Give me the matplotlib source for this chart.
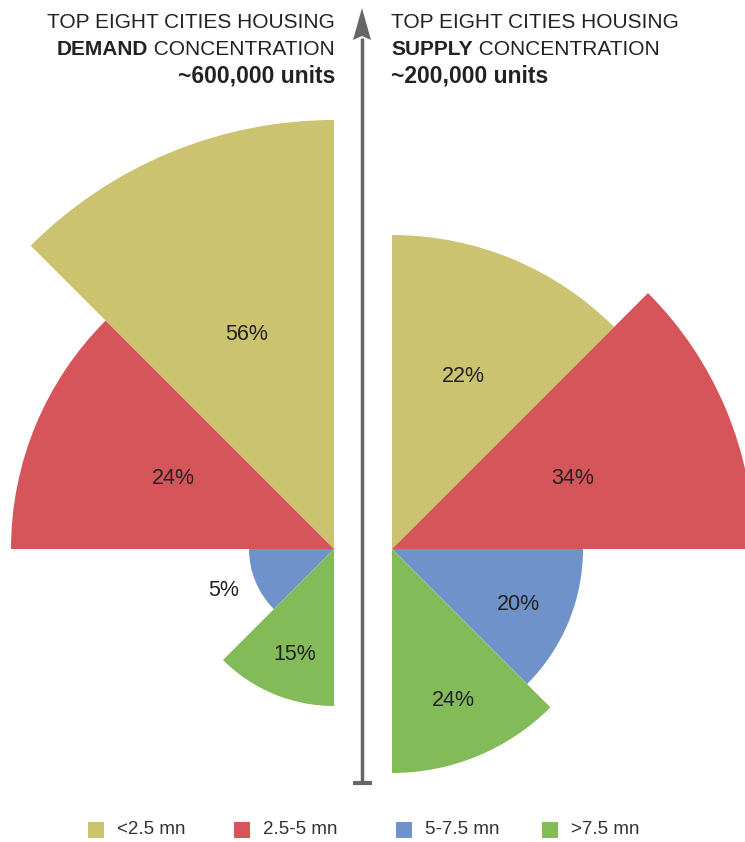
import matplotlib
matplotlib.use("Agg")
import matplotlib.pyplot as plt
from matplotlib.patches import Wedge, Rectangle, Polygon
from matplotlib import font_manager

# ---- data ----
categories = ['<2.5 mn', '2.5-5 mn', '5-7.5 mn', '>7.5 mn']
colors = ['#CBC36F', '#D6555A', '#6F92CB', '#82BB58']
demand_share = [56, 24, 5, 15]
supply_share = [22, 34, 20, 24]
# sector radii as drawn (pixels)
demand_radius = [429, 323, 85, 157]
supply_radius = [314, 362, 191, 224]

names = {f.name for f in font_manager.fontManager.ttflist}
FONT = 'Liberation Sans' if 'Liberation Sans' in names else 'DejaVu Sans'
plt.rcParams['font.family'] = [FONT, 'DejaVu Sans']

W, H = 745, 842
fig = plt.figure(figsize=(W / 100, H / 100), dpi=100)
ax = fig.add_axes([0, 0, 1, 1])
ax.set_xlim(0, W)
ax.set_ylim(0, H)
ax.set_aspect('equal')
ax.axis('off')

def Y(py):
    return H - py

left_c = (334, Y(549))
right_c = (392, Y(549))

# demand: sectors going counter-clockwise from the top (90 -> 270)
for i, (val, r) in enumerate(zip(demand_share, demand_radius)):
    a0 = 90 + 45 * i
    ax.add_patch(Wedge(left_c, r, a0, a0 + 45, facecolor=colors[i], edgecolor='none'))
# supply: sectors going clockwise from the top (90 -> -90)
for i, (val, r) in enumerate(zip(supply_share, supply_radius)):
    a1 = 90 - 45 * i
    ax.add_patch(Wedge(right_c, r, a1 - 45, a1, facecolor=colors[i], edgecolor='none'))

# value labels
lab_fs = 15.5
demand_lab_pos = [(247, 334), (173, 478), (224, 591), (295, 655)]
supply_lab_pos = [(463, 376), (573, 478), (518, 604), (453, 701)]
for v, (x, y) in zip(demand_share, demand_lab_pos):
    ax.text(x, Y(y), f'{v}%', ha='center', va='center', fontsize=lab_fs, color='#222222')
for v, (x, y) in zip(supply_share, supply_lab_pos):
    ax.text(x, Y(y), f'{v}%', ha='center', va='center', fontsize=lab_fs, color='#222222')

# central arrow axis
gray = '#666666'
ax.plot([362, 362], [Y(783), Y(38)], color=gray, lw=2.5, solid_capstyle='butt')
ax.add_patch(Polygon([(353, Y(40)), (362, Y(8)), (371, Y(40)), (362, Y(36))], closed=True,
                     facecolor=gray, edgecolor='none'))
ax.plot([353, 372], [Y(783), Y(783)], color=gray, lw=3, solid_capstyle='butt')

# titles
tfs = 15
bfs = 16.5
tcol = '#222222'
ax.text(335, Y(28), 'TOP EIGHT CITIES HOUSING', ha='right', va='baseline', fontsize=tfs, color=tcol)
t = ax.text(335, Y(55), ' CONCENTRATION', ha='right', va='baseline', fontsize=tfs, color=tcol)
ax.annotate('DEMAND', xy=(0, 0), xycoords=t, ha='right', va='bottom', fontsize=tfs,
            color=tcol, fontweight='bold')
ax.text(335, Y(82), '~600,000 units', ha='right', va='baseline', fontsize=bfs, color=tcol,
        fontweight='bold')

ax.text(391, Y(28), 'TOP EIGHT CITIES HOUSING', ha='left', va='baseline', fontsize=tfs, color=tcol)
t2 = ax.text(391, Y(55), 'SUPPLY', ha='left', va='baseline', fontsize=tfs, color=tcol,
             fontweight='bold')
ax.annotate(' CONCENTRATION', xy=(1, 0), xycoords=t2, ha='left', va='bottom', fontsize=tfs,
            color=tcol)
ax.text(391, Y(82), '~200,000 units', ha='left', va='baseline', fontsize=bfs, color=tcol,
        fontweight='bold')

# legend
leg_x = [88, 234, 396, 542]
for i, cat in enumerate(categories):
    ax.add_patch(Rectangle((leg_x[i], Y(838)), 16, 16, facecolor=colors[i], edgecolor='none'))
    ax.text(leg_x[i] + 29, Y(830), cat, ha='left', va='center', fontsize=13.5, color='#333333')

fig.savefig('out.png', dpi=100)
